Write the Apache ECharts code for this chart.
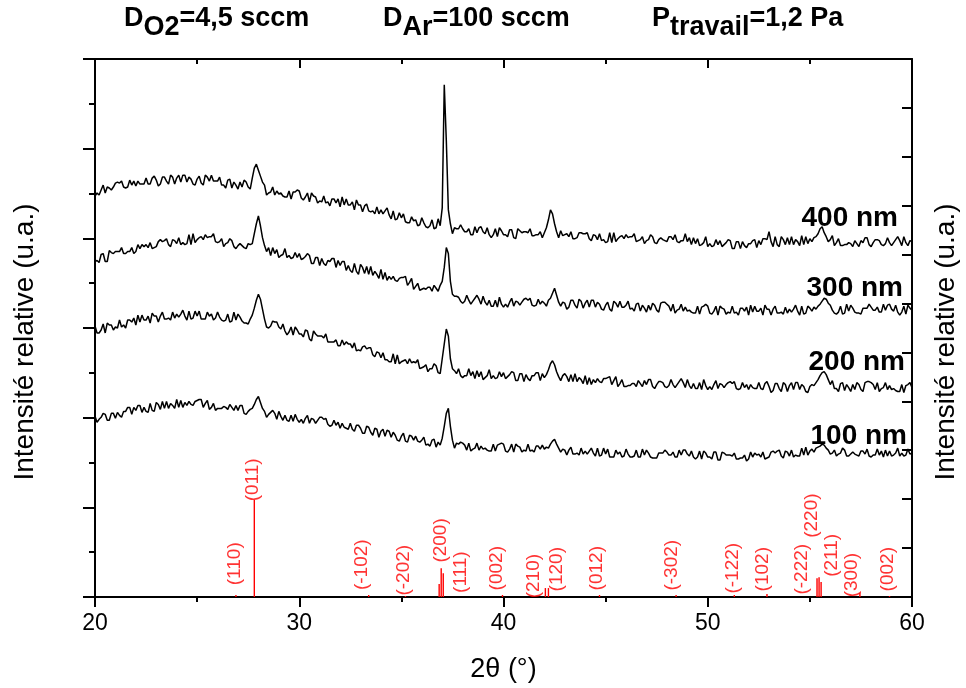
<!DOCTYPE html>
<html><head><meta charset="utf-8">
<script src="https://cdn.jsdelivr.net/npm/echarts@6/dist/echarts.min.js"></script>
<style>html,body{margin:0;padding:0;background:#fff}#c{width:966px;height:688px}</style>
</head><body><div id="c"></div>
<script>
// scan angles (2theta, degrees), 0.1 deg step
const twoTheta = [
20,20.1,20.2,20.3,20.4,20.5,20.6,20.7,20.8,20.9, 21,21.1,21.2,21.3,21.4,21.5,21.6,21.7,21.8,21.9,
22,22.1,22.2,22.3,22.4,22.5,22.6,22.7,22.8,22.9, 23,23.1,23.2,23.3,23.4,23.5,23.6,23.7,23.8,23.9,
24,24.1,24.2,24.3,24.4,24.5,24.6,24.7,24.8,24.9, 25,25.1,25.2,25.3,25.4,25.5,25.6,25.7,25.8,25.9,
26,26.1,26.2,26.3,26.4,26.5,26.6,26.7,26.8,26.9, 27,27.1,27.2,27.3,27.4,27.5,27.6,27.7,27.8,27.9,
28,28.1,28.2,28.3,28.4,28.5,28.6,28.7,28.8,28.9, 29,29.1,29.2,29.3,29.4,29.5,29.6,29.7,29.8,29.9,
30,30.1,30.2,30.3,30.4,30.5,30.6,30.7,30.8,30.9, 31,31.1,31.2,31.3,31.4,31.5,31.6,31.7,31.8,31.9,
32,32.1,32.2,32.3,32.4,32.5,32.6,32.7,32.8,32.9, 33,33.1,33.2,33.3,33.4,33.5,33.6,33.7,33.8,33.9,
34,34.1,34.2,34.3,34.4,34.5,34.6,34.7,34.8,34.9, 35,35.1,35.2,35.3,35.4,35.5,35.6,35.7,35.8,35.9,
36,36.1,36.2,36.3,36.4,36.5,36.6,36.7,36.8,36.9, 37,37.1,37.2,37.3,37.4,37.5,37.6,37.7,37.8,37.9,
38,38.1,38.2,38.3,38.4,38.5,38.6,38.7,38.8,38.9, 39,39.1,39.2,39.3,39.4,39.5,39.6,39.7,39.8,39.9,
40,40.1,40.2,40.3,40.4,40.5,40.6,40.7,40.8,40.9, 41,41.1,41.2,41.3,41.4,41.5,41.6,41.7,41.8,41.9,
42,42.1,42.2,42.3,42.4,42.5,42.6,42.7,42.8,42.9, 43,43.1,43.2,43.3,43.4,43.5,43.6,43.7,43.8,43.9,
44,44.1,44.2,44.3,44.4,44.5,44.6,44.7,44.8,44.9, 45,45.1,45.2,45.3,45.4,45.5,45.6,45.7,45.8,45.9,
46,46.1,46.2,46.3,46.4,46.5,46.6,46.7,46.8,46.9, 47,47.1,47.2,47.3,47.4,47.5,47.6,47.7,47.8,47.9,
48,48.1,48.2,48.3,48.4,48.5,48.6,48.7,48.8,48.9, 49,49.1,49.2,49.3,49.4,49.5,49.6,49.7,49.8,49.9,
50,50.1,50.2,50.3,50.4,50.5,50.6,50.7,50.8,50.9, 51,51.1,51.2,51.3,51.4,51.5,51.6,51.7,51.8,51.9,
52,52.1,52.2,52.3,52.4,52.5,52.6,52.7,52.8,52.9, 53,53.1,53.2,53.3,53.4,53.5,53.6,53.7,53.8,53.9,
54,54.1,54.2,54.3,54.4,54.5,54.6,54.7,54.8,54.9, 55,55.1,55.2,55.3,55.4,55.5,55.6,55.7,55.8,55.9,
56,56.1,56.2,56.3,56.4,56.5,56.6,56.7,56.8,56.9, 57,57.1,57.2,57.3,57.4,57.5,57.6,57.7,57.8,57.9,
58,58.1,58.2,58.3,58.4,58.5,58.6,58.7,58.8,58.9, 59,59.1,59.2,59.3,59.4,59.5,59.6,59.7,59.8,59.9, 60];

// relative intensity (a.u.), curves offset as in the figure
const i400 = [
404,407,405,410,415,407,413,412,410,413, 417,418,417,419,413,412,413,420,415,419,
414,419,416,416,416,422,416,416,422,424, 420,414,416,423,423,419,416,425,423,416,
422,425,418,425,425,418,423,421,416,415, 421,424,417,415,425,423,419,425,419,419,
419,423,415,415,412,420,421,412,418,415, 411,418,413,420,418,413,411,422,432,436,
430,424,418,415,405,407,408,413,405,409, 406,407,404,403,403,409,401,408,408,410,
409,402,400,403,407,398,407,404,403,397, 399,398,404,397,398,394,401,401,397,401,
393,403,395,401,395,395,398,390,400,395, 395,388,394,396,389,388,389,386,393,386,
390,386,389,392,385,381,389,380,381,387, 382,386,378,377,377,383,379,380,374,375,
382,377,373,372,374,380,371,372,381,374, 392,516,460,390,376,366,372,371,371,375,
371,368,368,371,365,365,373,367,372,373, 368,366,372,365,362,365,371,363,372,369,
365,365,363,370,370,362,361,371,369,367, 368,368,367,371,364,364,365,365,368,362,
367,372,380,390,386,376,368,362,369,364, 365,366,363,368,361,361,362,367,367,366,
366,367,361,359,365,364,360,366,359,360, 357,358,367,357,367,358,361,363,364,361,
365,362,363,363,366,358,359,360,363,356, 359,360,365,363,357,356,360,362,360,359,
358,363,363,360,365,358,357,359,359,366, 358,362,355,362,356,361,354,355,357,363,
353,356,353,354,360,355,359,353,355,357, 360,359,351,351,358,358,351,358,354,352,
356,356,359,360,352,359,355,361,361,360, 368,358,353,363,355,353,363,360,355,362,
355,363,355,360,358,354,364,355,363,356, 361,358,362,363,366,371,373,367,363,358,
360,364,354,357,361,354,354,355,355,357, 356,353,359,356,353,359,357,362,362,355,
353,357,360,360,359,355,354,356,362,357, 354,357,360,363,359,354,363,357,354,359, 358];

const i300 = [
338,339,337,345,346,338,338,349,347,346, 348,348,348,352,346,346,348,348,352,346,
348,355,351,355,353,355,352,357,351,352, 353,358,360,358,359,361,355,353,360,359,
356,362,355,357,355,356,365,355,366,357, 360,362,363,360,365,362,363,363,366,358,
357,358,361,353,356,357,361,359,353,351, 354,356,354,352,351,356,355,356,366,376,
384,374,362,354,348,352,344,352,346,350, 342,344,345,351,342,344,341,342,347,342,
346,340,341,343,346,344,336,336,342,342, 334,341,336,334,339,338,341,341,332,339,
334,338,338,329,334,329,327,336,328,325, 335,332,326,333,325,333,324,328,325,321,
330,320,327,319,323,320,323,319,318,321, 322,322,323,314,317,321,310,313,316,309,
310,311,310,312,312,308,314,311,308,314, 318,332,352,346,318,305,303,303,302,298,
296,298,304,299,295,298,301,304,300,295, 303,297,294,299,293,293,299,292,302,295,
292,295,292,297,301,293,298,297,294,297, 300,301,299,301,294,293,294,300,295,298,
296,293,299,301,306,311,304,297,293,297, 296,290,292,299,299,294,291,300,298,291,
296,299,292,299,299,292,297,295,290,289, 294,297,290,288,298,296,292,298,292,292,
294,298,290,291,288,295,296,288,294,291, 287,294,289,296,294,289,287,296,297,297,
295,293,288,295,286,289,290,295,288,292, 288,289,287,286,286,293,285,292,293,295,
293,286,285,288,293,284,293,291,290,285, 287,286,293,286,287,284,291,291,288,292,
284,294,287,293,288,288,291,284,294,290, 290,284,290,293,286,286,287,285,292,286,
290,287,290,294,288,284,293,285,286,293, 291,288,292,290,293,295,298,301,300,296,
294,289,286,285,287,293,285,286,295,288, 294,291,287,286,286,285,291,291,291,295,
292,289,289,292,287,287,295,289,294,295, 290,288,294,287,284,287,293,285,294,291, 289];

const i200 = [
273,266,266,269,275,266,276,274,274,269, 272,271,279,272,274,271,279,279,277,281,
274,284,277,284,279,279,283,276,286,283, 283,277,283,287,280,280,281,279,287,281,
285,282,285,289,283,279,288,280,281,288, 283,288,280,280,280,287,283,285,279,281,
287,282,279,278,279,285,277,278,287,279, 285,282,278,276,276,275,280,284,291,299,
305,300,290,280,272,271,273,278,277,277, 272,270,275,268,264,267,272,264,272,269,
265,265,262,269,268,260,258,268,265,263, 263,263,261,265,257,257,257,257,259,253,
253,259,254,257,255,255,251,256,248,249, 248,252,253,250,251,251,244,242,247,246,
241,246,239,239,237,237,245,235,244,235, 237,238,239,235,240,236,237,236,239,230,
231,232,234,227,230,230,235,233,226,225, 240,255,270,263,240,230,228,225,230,223,
221,223,223,230,223,227,220,228,222,227, 219,221,223,229,220,223,220,221,227,222,
226,220,222,224,227,226,218,218,225,225, 217,224,220,218,223,223,226,226,218,225,
221,224,229,235,238,234,227,222,218,223, 225,222,217,224,217,225,217,221,219,215,
223,214,221,214,219,216,220,217,216,220, 220,221,222,214,218,222,212,215,219,212,
212,213,213,215,215,212,218,215,212,218, 214,219,219,212,210,214,217,217,216,212,
211,213,219,214,211,214,217,220,216,211, 219,213,210,215,210,210,216,209,219,213,
209,212,209,214,218,210,215,214,211,214, 216,217,215,217,210,209,210,216,211,214,
209,214,211,210,210,216,210,209,215,217, 212,206,208,215,215,210,207,216,214,207,
213,216,209,216,216,209,214,212,207,206, 212,214,213,216,219,223,226,227,224,219,
214,218,210,210,207,215,216,208,214,211, 207,214,209,216,214,209,207,216,217,217,
216,214,209,216,207,210,211,216,209,213, 209,210,208,207,207,214,206,213,214,216, 211];

const i100 = [
182,176,179,181,185,184,178,178,185,185, 180,186,183,181,187,187,191,191,184,191,
188,193,193,186,191,187,186,195,188,187, 196,194,189,197,190,197,190,195,193,190,
199,191,198,191,196,193,197,194,193,197, 198,199,199,191,195,198,189,191,195,188,
190,190,190,192,191,189,194,191,188,193, 188,193,193,185,184,187,189,190,194,199,
202,196,190,187,181,184,186,188,185,179, 187,182,178,183,178,177,183,177,184,179,
176,179,175,180,183,175,180,179,175,178, 181,181,179,180,174,172,173,178,173,176,
170,175,171,170,169,175,169,167,173,173, 170,165,165,172,171,166,163,170,169,161,
167,169,162,168,167,161,166,163,158,157, 162,165,157,156,163,162,158,162,157,156,
158,161,153,154,152,158,159,151,156,153, 160,172,185,190,172,158,150,155,154,156,
155,153,148,155,147,149,150,155,148,152, 149,150,148,147,147,154,147,153,154,155,
154,147,146,149,154,146,154,152,151,146, 148,147,154,147,148,146,152,152,149,153,
149,151,150,154,157,159,154,150,146,149, 148,143,148,151,144,144,145,143,150,144,
147,144,147,150,145,142,150,142,143,150, 144,149,141,141,141,148,144,146,141,142,
149,144,141,141,142,148,141,141,149,143, 148,145,141,140,140,140,145,145,145,148,
146,143,143,146,141,141,148,143,148,148, 144,142,147,141,139,141,147,139,147,145,
141,141,139,146,146,138,138,146,145,143, 143,143,142,145,139,139,140,140,143,137,
139,146,141,145,143,144,141,146,139,140, 141,146,147,145,147,148,142,140,147,146,
142,148,141,143,142,142,150,143,151,143, 147,149,146,150,151,152,154,153,150,148,
144,145,148,142,144,145,150,148,142,142, 144,146,144,143,142,147,147,144,149,142,
141,143,143,149,143,147,141,148,142,147, 142,143,145,150,142,145,142,143,149,144, 145];

const curveNames = ['400 nm','300 nm','200 nm','100 nm'];

// reference pattern (sticks)
const stickPos = [26.9, 27.8, 33.4, 35.2, 36.85, 36.95, 37.05, 39.95, 42.05, 42.2, 44.7, 48.45, 51.3, 52.9, 55.35, 55.45, 55.55, 57.45, 58.9];
const stickInt = [2, 98, 2, 1, 13, 29, 24, 2, 9, 9, 2, 2, 2, 3, 19, 20, 15, 4, 1];

// hkl labels and their anchor (2theta, intensity)
const hklNames = ['(110)','(011)','(-102)','(-202)','(200)','(111)','(002)','(210)','(120)','(012)','(-302)','(-122)','(102)','(-222)','(220)','(211)','(300)','(002)'];
const hklX = [26.85, 27.71, 33.07, 35.13, 36.93, 37.92, 39.68, 41.49, 42.6, 44.56, 48.24, 51.24, 52.7, 54.61, 55.1, 56.07, 57.05, 58.82];
const hklY = [33.5, 118, 32.5, 27, 57, 25, 29, 21, 28, 29, 32, 29, 28, 28, 82, 42, 22, 28];

const FONT = 'Liberation Sans, Arial, sans-serif';
const chart = echarts.init(document.getElementById('c'));
const pairs = arr => twoTheta.map((x, i) => [x, arr[i]]);
const curves = [i400, i300, i200, i100].map((arr, k) => ({
  type: 'line', name: curveNames[k], data: pairs(arr), symbol: 'none', z: 5,
  lineStyle: { color: '#000', width: 1.5 }, silent: true
}));
const axLine = { show: true, onZero: false, lineStyle: { color: '#000', width: 2 } };
const tickStyle = { color: '#000', width: 2 };
const rich = { m: { fontSize: 27, fontWeight: 'bold', fontFamily: FONT, fill: '#000', padding: [0,0,9,0] },
               s: { fontSize: 27, fontWeight: 'bold', fontFamily: FONT, fill: '#000', padding: [9,0,0,0] } };
const sideText = (x, y, t) => ({ type: 'text', x: x, y: y, style: { text: t, fontSize: 28, fontWeight: 'bold',
  fontFamily: FONT, fill: '#000', align: 'right', verticalAlign: 'middle' } });

const option = {
  animation: false,
  grid: { left: 95, right: 54, top: 59, bottom: 87, containLabel: false },
  xAxis: [
    { type: 'value', min: 20, max: 60, interval: 10, position: 'bottom',
      axisLine: axLine,
      axisTick: { show: true, inside: false, length: 10, lineStyle: tickStyle },
      minorTick: { show: true, splitNumber: 2, length: 5, lineStyle: tickStyle },
      splitLine: { show: false },
      axisLabel: { color: '#000', fontSize: 23, fontFamily: FONT, margin: 15 },
      name: '2θ (°)', nameLocation: 'middle', nameGap: 59,
      nameTextStyle: { color: '#000', fontSize: 27, fontFamily: FONT } },
    { type: 'value', min: 20, max: 60, interval: 10, position: 'top',
      axisLine: axLine,
      axisTick: { show: true, inside: true, length: 9, lineStyle: tickStyle },
      minorTick: { show: true, splitNumber: 2, length: 5, lineStyle: tickStyle },
      splitLine: { show: false }, axisLabel: { show: false } }
  ],
  yAxis: [
    { type: 'value', min: 0, max: 542, interval: 542 / 6, position: 'left',
      axisLine: axLine,
      axisTick: { show: true, inside: false, length: 12, lineStyle: tickStyle },
      minorTick: { show: true, splitNumber: 2, length: 6, lineStyle: tickStyle },
      splitLine: { show: false }, axisLabel: { show: false } },
    { type: 'value', min: 0, max: 542, interval: 49.3, position: 'right',
      axisLine: axLine,
      axisTick: { show: true, inside: true, length: 10, lineStyle: tickStyle },
      splitLine: { show: false }, axisLabel: { show: false } }
  ],
  series: [
    { type: 'bar', data: stickPos.map((x, i) => [x, stickInt[i]]), barWidth: 1.4,
      itemStyle: { color: '#ff0000' }, silent: true, z: 3 },
    { type: 'scatter', data: hklX.map((x, i) => [x, hklY[i]]), symbolSize: 1,
      itemStyle: { color: 'rgba(0,0,0,0)' }, silent: true, z: 4,
      label: { show: true, position: 'inside', rotate: 90, color: '#ff0000',
        fontSize: 19, fontFamily: FONT, formatter: p => hklNames[p.dataIndex] } },
    ...curves
  ],
  graphic: [
    { type: 'text', x: 124, y: 5, style: { text: '{m|D}{s|O2}{m|=4,5 sccm}', rich: rich } },
    { type: 'text', x: 383, y: 5, style: { text: '{m|D}{s|Ar}{m|=100 sccm}', rich: rich } },
    { type: 'text', x: 652, y: 5, style: { text: '{m|P}{s|travail}{m|=1,2 Pa}', rich: rich } },
    { type: 'text', x: 25, y: 342, rotation: Math.PI / 2, style: { text: 'Intensité relative (u.a.)',
      fontSize: 28, fontFamily: FONT, fill: '#000', align: 'center', verticalAlign: 'middle' } },
    { type: 'text', x: 946, y: 342, rotation: Math.PI / 2, style: { text: 'Intensité relative (u.a.)',
      fontSize: 28, fontFamily: FONT, fill: '#000', align: 'center', verticalAlign: 'middle' } },
    sideText(898, 218, curveNames[0]),
    sideText(903, 288, curveNames[1]),
    sideText(905, 362, curveNames[2]),
    sideText(907, 436, curveNames[3])
  ]
};
chart.setOption(option);
</script>
</body></html>
